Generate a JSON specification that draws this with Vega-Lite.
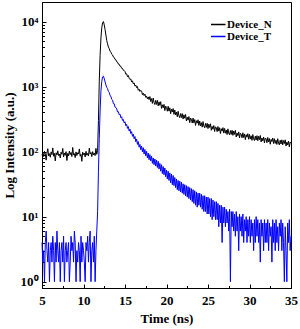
{
 "$schema": "https://vega.github.io/schema/vega-lite/v6.json",
 "width": 249, "height": 286,
 "autosize": {"type": "none"},
 "padding": {"left": 42, "top": 2, "right": 9, "bottom": 41},
 "config": {
  "view": {"stroke": "#000000", "strokeWidth": 1},
  "font": "Liberation Serif",
  "axis": {"grid": false, "labelFont": "Liberation Serif", "labelFontWeight": "bold", "labelFontSize": 13, "labelColor": "#000000",
           "titleFont": "Liberation Serif", "titleFontWeight": "bold", "titleFontSize": 13, "titleColor": "#000000",
           "tickColor": "#000000", "domainColor": "#000000", "domainWidth": 1, "tickWidth": 1},
  "legend": {"labelFont": "Liberation Serif", "labelFontWeight": "bold", "labelFontSize": 11, "labelColor": "#000000", "rowPadding": 0, "padding": 0}
 },
 "data": {"values": [
{"t":5.0,"Device_N":88,"Device_T":4},{"t":5.1,"Device_N":97,"Device_T":2},{"t":5.2,"Device_N":84,"Device_T":3},{"t":5.3,"Device_N":101,"Device_T":1},{"t":5.4,"Device_N":92,"Device_T":4},
{"t":5.5,"Device_N":74,"Device_T":6},{"t":5.6,"Device_N":95,"Device_T":3},{"t":5.7,"Device_N":111,"Device_T":2},{"t":5.8,"Device_N":86,"Device_T":4},{"t":5.9,"Device_N":93,"Device_T":1},
{"t":6.0,"Device_N":82,"Device_T":3},{"t":6.1,"Device_N":99,"Device_T":4},{"t":6.2,"Device_N":90,"Device_T":2},{"t":6.3,"Device_N":114,"Device_T":5},{"t":6.4,"Device_N":85,"Device_T":3},
{"t":6.5,"Device_N":94,"Device_T":1},{"t":6.6,"Device_N":72,"Device_T":4},{"t":6.7,"Device_N":96,"Device_T":2},{"t":6.8,"Device_N":89,"Device_T":6},{"t":6.9,"Device_N":103,"Device_T":3},
{"t":7.0,"Device_N":87,"Device_T":2},{"t":7.1,"Device_N":92,"Device_T":4},{"t":7.2,"Device_N":80,"Device_T":1},{"t":7.3,"Device_N":98,"Device_T":3},{"t":7.4,"Device_N":91,"Device_T":4},
{"t":7.5,"Device_N":112,"Device_T":2},{"t":7.6,"Device_N":83,"Device_T":5},{"t":7.7,"Device_N":95,"Device_T":1},{"t":7.8,"Device_N":88,"Device_T":3},{"t":7.9,"Device_N":100,"Device_T":4},
{"t":8.0,"Device_N":73,"Device_T":2},{"t":8.1,"Device_N":94,"Device_T":3},{"t":8.2,"Device_N":86,"Device_T":4},{"t":8.3,"Device_N":102,"Device_T":1},{"t":8.4,"Device_N":90,"Device_T":2},
{"t":8.5,"Device_N":97,"Device_T":5},{"t":8.6,"Device_N":84,"Device_T":3},{"t":8.7,"Device_N":116,"Device_T":4},{"t":8.8,"Device_N":89,"Device_T":2},{"t":8.9,"Device_N":93,"Device_T":6},
{"t":9.0,"Device_N":81,"Device_T":4},{"t":9.1,"Device_N":99,"Device_T":1},{"t":9.2,"Device_N":87,"Device_T":3},{"t":9.3,"Device_N":96,"Device_T":2},{"t":9.4,"Device_N":92,"Device_T":4},
{"t":9.5,"Device_N":110,"Device_T":3},{"t":9.6,"Device_N":85,"Device_T":1},{"t":9.7,"Device_N":91,"Device_T":5},{"t":9.8,"Device_N":71,"Device_T":2},{"t":9.9,"Device_N":98,"Device_T":4},
{"t":10.0,"Device_N":90,"Device_T":3},{"t":10.1,"Device_N":95,"Device_T":2},{"t":10.2,"Device_N":83,"Device_T":1},{"t":10.3,"Device_N":101,"Device_T":4},{"t":10.4,"Device_N":88,"Device_T":3},
{"t":10.5,"Device_N":94,"Device_T":5},{"t":10.6,"Device_N":86,"Device_T":2},{"t":10.7,"Device_N":113,"Device_T":4},{"t":10.8,"Device_N":92,"Device_T":6},{"t":10.9,"Device_N":97,"Device_T":1},
{"t":11.0,"Device_N":84,"Device_T":3},{"t":11.1,"Device_N":100,"Device_T":4},{"t":11.2,"Device_N":89,"Device_T":2},{"t":11.3,"Device_N":95,"Device_T":5},{"t":11.4,"Device_N":87,"Device_T":1},
{"t":11.5,"Device_N":112,"Device_T":3},{"t":11.6,"Device_N":91,"Device_T":6},{"t":11.7,"Device_N":105,"Device_T":12},{"t":11.8,"Device_N":300,"Device_T":50},{"t":11.9,"Device_N":1200,"Device_T":160},
{"t":12.0,"Device_N":3000,"Device_T":420},{"t":12.1,"Device_N":5600,"Device_T":850},{"t":12.2,"Device_N":8000,"Device_T":1200},{"t":12.3,"Device_N":9600,"Device_T":1410},{"t":12.4,"Device_N":10000,"Device_T":1450},
{"t":12.5,"Device_N":8900,"Device_T":1330},{"t":12.6,"Device_N":7500,"Device_T":1180},{"t":12.7,"Device_N":6200,"Device_T":1060},{"t":12.8,"Device_N":5100,"Device_T":975},{"t":12.9,"Device_N":4550,"Device_T":930},
{"t":13.0,"Device_N":4060,"Device_T":845},{"t":13.1,"Device_N":3840,"Device_T":815},{"t":13.2,"Device_N":3510,"Device_T":728},{"t":13.3,"Device_N":3390,"Device_T":710},{"t":13.4,"Device_N":3140,"Device_T":638},
{"t":13.5,"Device_N":3070,"Device_T":620},{"t":13.6,"Device_N":2860,"Device_T":548},{"t":13.7,"Device_N":2810,"Device_T":545},{"t":13.8,"Device_N":2620,"Device_T":482},{"t":13.9,"Device_N":2590,"Device_T":478},
{"t":14.0,"Device_N":2410,"Device_T":455},{"t":14.1,"Device_N":2380,"Device_T":408},{"t":14.2,"Device_N":2220,"Device_T":412},{"t":14.3,"Device_N":2210,"Device_T":370},{"t":14.4,"Device_N":2060,"Device_T":378},
{"t":14.5,"Device_N":2050,"Device_T":332},{"t":14.6,"Device_N":1910,"Device_T":344},{"t":14.7,"Device_N":1900,"Device_T":302},{"t":14.8,"Device_N":1780,"Device_T":312},{"t":14.9,"Device_N":1770,"Device_T":276},
{"t":15.0,"Device_N":1705,"Device_T":288},{"t":15.1,"Device_N":1552,"Device_T":250},{"t":15.2,"Device_N":1576,"Device_T":263},{"t":15.3,"Device_N":1421,"Device_T":228},{"t":15.4,"Device_N":1482,"Device_T":243},
{"t":15.5,"Device_N":1348,"Device_T":207},{"t":15.6,"Device_N":1285,"Device_T":222},{"t":15.7,"Device_N":1313,"Device_T":190},{"t":15.8,"Device_N":1176,"Device_T":203},{"t":15.9,"Device_N":1227,"Device_T":172},
{"t":16.0,"Device_N":1101,"Device_T":186},{"t":16.1,"Device_N":1139,"Device_T":158},{"t":16.2,"Device_N":1018,"Device_T":171},{"t":16.3,"Device_N":1056,"Device_T":142},{"t":16.4,"Device_N":965,"Device_T":156},
{"t":16.5,"Device_N":1003,"Device_T":129},{"t":16.6,"Device_N":879,"Device_T":143},{"t":16.7,"Device_N":913,"Device_T":117},{"t":16.8,"Device_N":842,"Device_T":129},{"t":16.9,"Device_N":877,"Device_T":107},
{"t":17.0,"Device_N":850,"Device_T":122},{"t":17.1,"Device_N":753,"Device_T":99},{"t":17.2,"Device_N":793,"Device_T":115},{"t":17.3,"Device_N":728,"Device_T":92},{"t":17.4,"Device_N":767,"Device_T":108},
{"t":17.5,"Device_N":684,"Device_T":86},{"t":17.6,"Device_N":711,"Device_T":101},{"t":17.7,"Device_N":648,"Device_T":80},{"t":17.8,"Device_N":694,"Device_T":95},{"t":17.9,"Device_N":632,"Device_T":75},
{"t":18.0,"Device_N":703,"Device_T":90},{"t":18.1,"Device_N":590,"Device_T":72},{"t":18.2,"Device_N":654,"Device_T":85},{"t":18.3,"Device_N":551,"Device_T":66},{"t":18.4,"Device_N":667,"Device_T":80},
{"t":18.5,"Device_N":566,"Device_T":63},{"t":18.6,"Device_N":530,"Device_T":77},{"t":18.7,"Device_N":614,"Device_T":60},{"t":18.8,"Device_N":532,"Device_T":74},{"t":18.9,"Device_N":614,"Device_T":57},
{"t":19.0,"Device_N":506,"Device_T":71},{"t":19.1,"Device_N":584,"Device_T":54},{"t":19.2,"Device_N":516,"Device_T":66},{"t":19.3,"Device_N":586,"Device_T":50},{"t":19.4,"Device_N":463,"Device_T":63},
{"t":19.5,"Device_N":525,"Device_T":46},{"t":19.6,"Device_N":472,"Device_T":59},{"t":19.7,"Device_N":533,"Device_T":44},{"t":19.8,"Device_N":428,"Device_T":56},{"t":19.9,"Device_N":501,"Device_T":41},
{"t":20.0,"Device_N":479,"Device_T":52},{"t":20.1,"Device_N":418,"Device_T":38},{"t":20.2,"Device_N":498,"Device_T":50},{"t":20.3,"Device_N":420,"Device_T":36},{"t":20.4,"Device_N":472,"Device_T":47},
{"t":20.5,"Device_N":383,"Device_T":33},{"t":20.6,"Device_N":449,"Device_T":45},{"t":20.7,"Device_N":408,"Device_T":31},{"t":20.8,"Device_N":460,"Device_T":43},{"t":20.9,"Device_N":374,"Device_T":30},
{"t":21.0,"Device_N":436,"Device_T":40},{"t":21.1,"Device_N":366,"Device_T":28},{"t":21.2,"Device_N":407,"Device_T":38},{"t":21.3,"Device_N":344,"Device_T":26},{"t":21.4,"Device_N":417,"Device_T":36},
{"t":21.5,"Device_N":355,"Device_T":25},{"t":21.6,"Device_N":332,"Device_T":35},{"t":21.7,"Device_N":385,"Device_T":24},{"t":21.8,"Device_N":334,"Device_T":34},{"t":21.9,"Device_N":385,"Device_T":23},
{"t":22.0,"Device_N":317,"Device_T":32},{"t":22.1,"Device_N":368,"Device_T":22},{"t":22.2,"Device_N":327,"Device_T":31},{"t":22.3,"Device_N":373,"Device_T":21},{"t":22.4,"Device_N":296,"Device_T":30},
{"t":22.5,"Device_N":338,"Device_T":20},{"t":22.6,"Device_N":305,"Device_T":29},{"t":22.7,"Device_N":346,"Device_T":19},{"t":22.8,"Device_N":279,"Device_T":28},{"t":22.9,"Device_N":328,"Device_T":18},
{"t":23.0,"Device_N":314,"Device_T":27},{"t":23.1,"Device_N":275,"Device_T":17},{"t":23.2,"Device_N":328,"Device_T":26},{"t":23.3,"Device_N":277,"Device_T":16},{"t":23.4,"Device_N":311,"Device_T":25},
{"t":23.5,"Device_N":253,"Device_T":15},{"t":23.6,"Device_N":299,"Device_T":24},{"t":23.7,"Device_N":274,"Device_T":14},{"t":23.8,"Device_N":309,"Device_T":23},{"t":23.9,"Device_N":253,"Device_T":15},
{"t":24.0,"Device_N":296,"Device_T":23},{"t":24.1,"Device_N":250,"Device_T":14},{"t":24.2,"Device_N":279,"Device_T":22},{"t":24.3,"Device_N":238,"Device_T":13},{"t":24.4,"Device_N":290,"Device_T":21},
{"t":24.5,"Device_N":248,"Device_T":12},{"t":24.6,"Device_N":233,"Device_T":21},{"t":24.7,"Device_N":271,"Device_T":12},{"t":24.8,"Device_N":236,"Device_T":20},{"t":24.9,"Device_N":273,"Device_T":11},
{"t":25.0,"Device_N":226,"Device_T":20},{"t":25.1,"Device_N":264,"Device_T":11},{"t":25.2,"Device_N":235,"Device_T":19},{"t":25.3,"Device_N":268,"Device_T":10},{"t":25.4,"Device_N":213,"Device_T":19},
{"t":25.5,"Device_N":244,"Device_T":9},{"t":25.6,"Device_N":221,"Device_T":18},{"t":25.7,"Device_N":252,"Device_T":10},{"t":25.8,"Device_N":204,"Device_T":17},{"t":25.9,"Device_N":241,"Device_T":9},
{"t":26.0,"Device_N":232,"Device_T":17},{"t":26.1,"Device_N":203,"Device_T":9},{"t":26.2,"Device_N":243,"Device_T":16},{"t":26.3,"Device_N":207,"Device_T":7},{"t":26.4,"Device_N":233,"Device_T":15},
{"t":26.5,"Device_N":190,"Device_T":8},{"t":26.6,"Device_N":225,"Device_T":15},{"t":26.7,"Device_N":207,"Device_T":4},{"t":26.8,"Device_N":234,"Device_T":14},{"t":26.9,"Device_N":193,"Device_T":8},
{"t":27.0,"Device_N":227,"Device_T":14},{"t":27.1,"Device_N":192,"Device_T":7},{"t":27.2,"Device_N":215,"Device_T":13},{"t":27.3,"Device_N":183,"Device_T":8},{"t":27.4,"Device_N":224,"Device_T":12},
{"t":27.5,"Device_N":192,"Device_T":6},{"t":27.6,"Device_N":181,"Device_T":13},{"t":27.7,"Device_N":211,"Device_T":1},{"t":27.8,"Device_N":184,"Device_T":12},{"t":27.9,"Device_N":213,"Device_T":7},
{"t":28.0,"Device_N":178,"Device_T":12},{"t":28.1,"Device_N":207,"Device_T":6},{"t":28.2,"Device_N":184,"Device_T":11},{"t":28.3,"Device_N":212,"Device_T":5},{"t":28.4,"Device_N":168,"Device_T":12},
{"t":28.5,"Device_N":193,"Device_T":6},{"t":28.6,"Device_N":176,"Device_T":10},{"t":28.7,"Device_N":201,"Device_T":3},{"t":28.8,"Device_N":162,"Device_T":11},{"t":28.9,"Device_N":192,"Device_T":6},
{"t":29.0,"Device_N":185,"Device_T":10},{"t":29.1,"Device_N":163,"Device_T":5},{"t":29.2,"Device_N":195,"Device_T":11},{"t":29.3,"Device_N":165,"Device_T":4},{"t":29.4,"Device_N":187,"Device_T":9},
{"t":29.5,"Device_N":153,"Device_T":6},{"t":29.6,"Device_N":182,"Device_T":10},{"t":29.7,"Device_N":167,"Device_T":4},{"t":29.8,"Device_N":189,"Device_T":9},{"t":29.9,"Device_N":155,"Device_T":5},
{"t":30.0,"Device_N":184,"Device_T":10},{"t":30.1,"Device_N":156,"Device_T":4},{"t":30.2,"Device_N":175,"Device_T":9},{"t":30.3,"Device_N":149,"Device_T":5},{"t":30.4,"Device_N":183,"Device_T":8},
{"t":30.5,"Device_N":157,"Device_T":3},{"t":30.6,"Device_N":148,"Device_T":9},{"t":30.7,"Device_N":173,"Device_T":4},{"t":30.8,"Device_N":151,"Device_T":10},{"t":30.9,"Device_N":176,"Device_T":5},
{"t":31.0,"Device_N":147,"Device_T":9},{"t":31.1,"Device_N":172,"Device_T":4},{"t":31.2,"Device_N":153,"Device_T":8},{"t":31.3,"Device_N":177,"Device_T":2},{"t":31.4,"Device_N":141,"Device_T":9},
{"t":31.5,"Device_N":162,"Device_T":5},{"t":31.6,"Device_N":147,"Device_T":8},{"t":31.7,"Device_N":168,"Device_T":3},{"t":31.8,"Device_N":136,"Device_T":9},{"t":31.9,"Device_N":162,"Device_T":4},
{"t":32.0,"Device_N":157,"Device_T":8},{"t":32.1,"Device_N":137,"Device_T":4},{"t":32.2,"Device_N":165,"Device_T":9},{"t":32.3,"Device_N":141,"Device_T":3},{"t":32.4,"Device_N":159,"Device_T":8},
{"t":32.5,"Device_N":130,"Device_T":5},{"t":32.6,"Device_N":154,"Device_T":7},{"t":32.7,"Device_N":143,"Device_T":2},{"t":32.8,"Device_N":162,"Device_T":9},{"t":32.9,"Device_N":133,"Device_T":4},
{"t":33.0,"Device_N":158,"Device_T":8},{"t":33.1,"Device_N":134,"Device_T":3},{"t":33.2,"Device_N":150,"Device_T":9},{"t":33.3,"Device_N":129,"Device_T":4},{"t":33.4,"Device_N":158,"Device_T":7},
{"t":33.5,"Device_N":135,"Device_T":3},{"t":33.6,"Device_N":127,"Device_T":8},{"t":33.7,"Device_N":150,"Device_T":5},{"t":33.8,"Device_N":131,"Device_T":9},{"t":33.9,"Device_N":152,"Device_T":3},
{"t":34.0,"Device_N":127,"Device_T":8},{"t":34.1,"Device_N":148,"Device_T":4},{"t":34.2,"Device_N":133,"Device_T":1},{"t":34.3,"Device_N":152,"Device_T":7},{"t":34.4,"Device_N":122,"Device_T":3},
{"t":34.5,"Device_N":140,"Device_T":1},{"t":34.6,"Device_N":127,"Device_T":8},{"t":34.7,"Device_N":145,"Device_T":4},{"t":34.8,"Device_N":118,"Device_T":9},{"t":34.9,"Device_N":140,"Device_T":3},
{"t":35.0,"Device_N":136,"Device_T":5}
 ]},
 "transform": [{"fold": ["Device_N", "Device_T"], "as": ["series", "value"]}],
 "layer": [
  {
   "mark": {"type": "line", "strokeWidth": 1},
   "encoding": {
    "x": {"field": "t", "type": "quantitative", "scale": {"domain": [5, 35], "nice": false, "zero": false},
          "axis": {"orient": "bottom", "values": [5, 10, 15, 20, 25, 30, 35], "tickSize": -4, "labelPadding": 10, "title": "Time (ns)", "titlePadding": 5, "labelFlush": false}},
    "y": {"field": "value", "type": "quantitative", "scale": {"type": "log", "domain": [0.8, 20000], "nice": false},
          "axis": {"orient": "left", "values": [1, 10, 100, 1000, 10000], "tickSize": -4, "labelPadding": 8,
                   "labelExpr": "'10' + ['⁰','¹','²','³','⁴'][round(log(datum.value)/LN10)]",
                   "title": "Log Intensity (a.u.)", "titlePadding": 4}},
    "color": {"field": "series", "type": "nominal",
              "scale": {"domain": ["Device_N", "Device_T"], "range": ["#000000", "#0000ff"]},
              "legend": {"orient": "none", "legendX": 169, "legendY": 17, "title": null, "symbolType": "M-3,0H3",
                         "symbolSize": 36, "symbolStrokeWidth": 1.5, "labelOffset": 5, "rowPadding": 0, "clipHeight": 11}}
   }
  },
  {
   "mark": {"type": "point", "opacity": 0},
   "encoding": {
    "x": {"field": "t", "type": "quantitative",
          "axis": {"orient": "bottom", "values": [7.5, 12.5, 17.5, 22.5, 27.5, 32.5], "tickSize": -2.5, "labels": false, "domain": false, "title": null}},
    "y": {"field": "value", "type": "quantitative",
          "axis": {"orient": "left", "values": [0.9, 2, 3, 4, 5, 6, 7, 8, 9, 20, 30, 40, 50, 60, 70, 80, 90, 200, 300, 400, 500, 600, 700, 800, 900, 2000, 3000, 4000, 5000, 6000, 7000, 8000, 9000, 20000], "tickSize": -2.5, "labels": false, "domain": false, "title": null}}
   }
  }
 ],
 "resolve": {"axis": {"x": "independent", "y": "independent"}}
}
